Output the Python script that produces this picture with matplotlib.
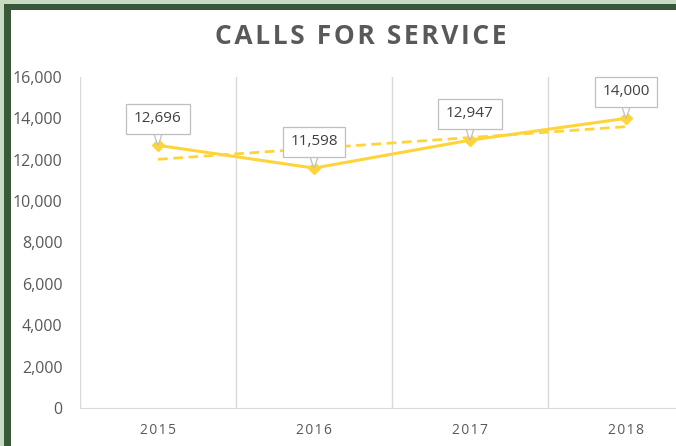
import numpy as np
import matplotlib.pyplot as plt
from matplotlib.patches import Rectangle

# Data
years = ['2015', '2016', '2017', '2018']
calls = [12696, 11598, 12947, 14000]
y_ticks = [0, 2000, 4000, 6000, 8000, 10000, 12000, 14000, 16000]

line_color = '#FFD43B'
text_color = '#595959'
grid_color = '#D9D9D9'

fig = plt.figure(figsize=(6.76, 4.46), dpi=100)
fig.patch.set_facecolor('white')

# frame around the slide (light + dark green strips, top and left)
W, H = 676, 446
def px_rect(x, y, w, h, color):
    fig.patches.append(Rectangle((x / W, 1 - (y + h) / H), w / W, h / H,
                                 transform=fig.transFigure, facecolor=color,
                                 edgecolor='none', zorder=10))
px_rect(0, 0, W, 3.5, '#C7DBC3')
px_rect(0, 0, 3.5, H, '#C7DBC3')
px_rect(3.5, 3.5, W, 6.5, '#395739')
px_rect(3.5, 3.5, 7.5, H, '#395739')

ax = fig.add_axes([80 / W, 38 / H, 624 / W, 331 / H])
x = np.arange(len(years))

# linear trendline
coef = np.polyfit(x, calls, 1)
trend = np.polyval(coef, x)
ax.plot(x, trend, color=line_color, lw=2.0, ls=(0, (3.5, 2)), zorder=2)

ax.plot(x, calls, color=line_color, lw=2.2, marker='D', markersize=6.5,
        zorder=3)

for xi, v in zip(x, calls):
    ax.annotate(f'{v:,}', xy=(xi, v), xytext=(0, 19), textcoords='offset points',
                ha='center', va='center', fontsize=11, color='#404040',
                family='Open Sans',
                bbox=dict(boxstyle='square,pad=0.5', fc='white', ec='#BFBFBF', lw=0.9),
                arrowprops=dict(arrowstyle='wedge,tail_width=1.0,shrink_factor=0.6',
                                fc='white', ec='#BFBFBF', lw=0.9,
                                patchA=None, shrinkA=0, shrinkB=0),
                zorder=4)

ax.set_xlim(-0.5, len(years) - 0.5)
ax.set_ylim(0, 16000)
ax.set_yticks(y_ticks)
ax.set_yticklabels([f'{t:,}' for t in y_ticks], fontsize=11.5, color=text_color,
                   family='Open Sans')
ax.set_xticks(x)
ax.set_xticklabels(['\u200a'.join(list(y)) for y in years], fontsize=10,
                   color=text_color, family=['Open Sans', 'DejaVu Sans'])
ax.set_xticks(np.arange(-0.5, len(years)), minor=True)
ax.grid(True, axis='x', which='minor', color=grid_color, lw=1)
ax.grid(False, axis='x', which='major')
ax.tick_params(axis='both', which='both', length=0)
ax.tick_params(axis='y', pad=12.5)
ax.tick_params(axis='x', pad=11)
for s in ['top', 'right', 'left']:
    ax.spines[s].set_visible(False)
ax.spines['bottom'].set_color(grid_color)

fig.text(361 / W, 1 - 36 / H, '\u200a'.join('CALLS FOR SERVICE'), ha='center',
         va='center', fontsize=19, fontweight='bold', color=text_color,
         family=['Open Sans', 'DejaVu Sans'])

fig.savefig('out.png', dpi=100)
